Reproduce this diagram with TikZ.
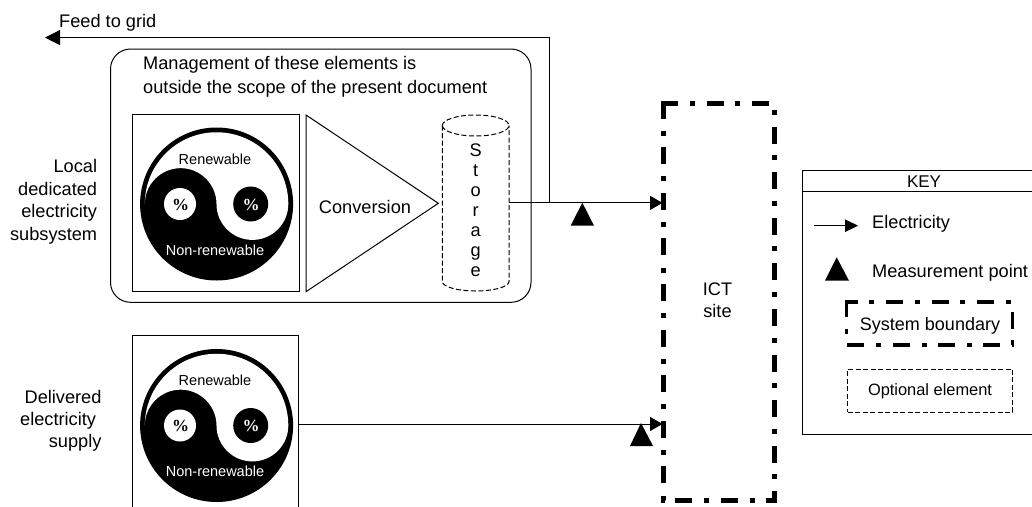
\documentclass[tikz,border=0pt]{standalone}
\usepackage{fontspec}
\setmainfont{Liberation Sans}
\newfontfamily\pctfamily{Liberation Serif}
\usetikzlibrary{arrows.meta,calc}
\tikzset{
  box/.style={draw=black,line width=1pt,rectangle,inner sep=0pt,outer sep=0pt},
  wire/.style={draw=black,line width=1pt},
  elec/.style={wire,-{Triangle[length=12.5pt,width=14pt]}},
  txt/.style={font=\fontsize{18.2}{22.5}\selectfont,inner sep=0pt,text=black},
  small/.style={font=\fontsize{14.5}{17}\selectfont,inner sep=0pt},
  pct/.style={font=\pctfamily\bfseries\fontsize{17}{17}\selectfont,inner sep=0pt},
  boundary/.style={draw=black,line width=5pt,line cap=butt,line join=miter,dash pattern=on 17pt off 11.5pt on 5pt off 12.1pt},
  keyboundary/.style={draw=black,line width=3.5pt,line cap=butt,line join=miter,dash pattern=on 17pt off 11.5pt on 5pt off 11.96pt,dash phase=4pt},
  optional/.style={draw=black,line width=1pt,dash pattern=on 5pt off 2.5pt},
  meter/.style={fill=black,draw=none}
}
\newcommand{\yinyang}[2]{%
  \begin{scope}[shift={(0,#2)}]
    \node[circle,fill=black,minimum size=153pt,inner sep=0pt,outer sep=0pt] (#1disk) at (216.6,204) {};
    \fill[white] (144.8,204) arc[start angle=180,end angle=0,radius=71.75pt]
                 arc[start angle=0,end angle=-180,radius=35.9pt]
                 arc[start angle=0,end angle=180,radius=35.85pt] -- cycle;
    \node[circle,fill=white,minimum size=32pt,inner sep=0pt] (#1a) at (180,204) {};
    \node[circle,fill=black,minimum size=35pt,inner sep=0pt] (#1b) at (250.7,204) {};
    \node[pct,text=black] (#1pa) at (180.5,204.5) {\%};
    \node[pct,text=white] (#1pb) at (251,204.5) {\%};
    \node[small,text=black] (#1r) at (215,159) {Renewable};
    \node[small,text=white] (#1n) at (215,250) {Non-renewable};
  \end{scope}}
\begin{document}
\begin{tikzpicture}[x=1pt,y=-1pt]
\useasboundingbox (0,0) rectangle (1032,506);
\clip (0,0) rectangle (1032,506);
% outer rounded box
\node[box,rounded corners=20pt,minimum width=420.5pt,minimum height=253.3pt] (scopebox) at (320.75,175.65) {};
\node[txt,align=left,anchor=north west,font=\fontsize{18.2}{24}\selectfont] (scopetext) at (143,56.5) {Management of these elements is\\outside the scope of the present document};
% source box 1
\node[box,minimum width=166.5pt,minimum height=176.5pt] (src1) at (216,203) {};
\yinyang{ya}{0}
% conversion
\coordinate (cA) at (306,115);
\coordinate (cB) at (306,291.7);
\coordinate (cC) at (438.3,203.3);
\draw[wire,line join=miter] (cA) -- (cC) -- (cB) -- cycle;
\node[txt] (conv) at (365,206.7) {Conversion};
% storage
\node[inner sep=0pt,minimum width=66.7pt,minimum height=175pt] (store) at (475.7,203) {};
\draw[optional] (442.3,125.5) arc[start angle=180,end angle=540,x radius=33.35pt,y radius=10.5pt];
\draw[optional] (442.3,125.5) -- (442.3,281.5) arc[start angle=180,end angle=360,x radius=33.35pt,y radius=9.5pt] -- (509,125.5);
\node[txt,align=center,anchor=north,font=\fontsize{18.2}{20}\selectfont] (storetext) at (475.7,143.5) {S\\t\\o\\r\\a\\g\\e};
% ICT site
\node[inner sep=0pt,outer sep=0pt,minimum width=111pt,minimum height=397pt] (ict) at (719,301.8) {};
\node[txt,align=center,font=\fontsize{18.2}{22}\selectfont] (ictlabel) at (717.5,300.5) {ICT\\site};
\draw[boundary] ($(ict.north west)+(-2.5,0)$) -- (ict.north east) -- (ict.south east) -- (ict.south west) -- ($(ict.north west)+(0,-2.5)$);
% connectors
\coordinate (out) at (509,202.9);
\coordinate (branch) at (549,202.9);
\coordinate (bendup) at (549,37.6);
\coordinate (gridend) at (45,37.6);
\draw[elec] (out) -- ($(out -| ict.west)+(-1,0)$);
\draw[wire,-{Triangle[length=15pt,width=15pt]}] (branch) -- (bendup) -- (gridend);
\node[txt,anchor=west] (feed) at (59,23) {Feed to grid};
\fill[meter] (582.3,202.7) -- (594,225.7) -- (570.7,225.7) -- cycle;
% source box 2
\node[box,minimum width=166pt,minimum height=200pt,anchor=north] (src2) at (215.3,335) {};
\yinyang{yb}{221.5}
\coordinate (s2out) at (src2.east |- 0,424);
\draw[elec] (s2out) -- ($(s2out -| ict.west)+(-1,0)$);
\fill[meter] (641,423) -- (653,446) -- (630,446) -- cycle;
% side labels
\node[txt,align=right,anchor=north east] (lbl1) at (97.3,159.2) {Local\\dedicated\\electricity\\subsystem};
\node[txt,align=right,anchor=north east,font=\fontsize{18.2}{22}\selectfont] (lbl2) at (101.7,389.7) {Delivered\\electricity\kern5.5pt\mbox{}\\supply};
% key
\node[box,minimum width=243pt,minimum height=264pt,anchor=north west] (key) at (802.7,170) {};
\draw[wire] (key.west |- 0,191.7) -- (key.east |- 0,191.7);
\node[txt,font=\fontsize{17}{20}\selectfont] (keytitle) at (924,181.5) {KEY};
\coordinate (k1) at (814,225.7);
\coordinate (k2) at (858,225.7);
\draw[wire,-{Triangle[length=13pt,width=12.5pt]}] (k1) -- (k2);
\node[txt,anchor=west] (k3) at (872,223.5) {Electricity};
\fill[meter] (836.7,257.3) -- (849,280.7) -- (825,280.7) -- cycle;
\node[txt,anchor=west] (k4) at (872,272.5) {Measurement point};
\node[minimum width=166pt,minimum height=43.3pt,inner sep=0pt,outer sep=0pt] (k5) at (929.7,323.4) {};
\node[txt,font=\fontsize{18}{22}\selectfont] (k5text) at (930,325.5) {System boundary};
\draw[keyboundary] ($(k5.north west)+(-1.75,0)$) -- (k5.north east) -- (k5.south east) -- (k5.south west) -- ($(k5.north west)+(0,-1.75)$);
\node[minimum width=165pt,minimum height=43pt,inner sep=0pt,outer sep=0pt,optional] (k6) at (930,390.5) {};
\node[inner sep=0pt,font=\fontsize{16.4}{20}\selectfont] (k6text) at (930,391.5) {Optional element};
\end{tikzpicture}
\end{document}
